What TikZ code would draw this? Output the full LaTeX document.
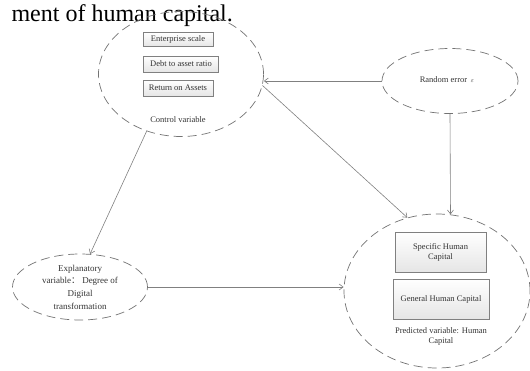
\documentclass[tikz,border=0pt]{standalone}
\usepackage{fontspec}
\setmainfont{Liberation Serif}
\newfontfamily\cjk{Noto Sans CJK SC}
\usetikzlibrary{shapes.geometric,arrows.meta}
\begin{document}
\begin{tikzpicture}[x=1pt,y=-1pt,
  every node/.style={text=black!80},
  grp/.style={ellipse,draw=black!55,line width=0.7pt,dash pattern=on 9pt off 5pt,inner sep=0pt},
  vbox/.style={rectangle,draw=black!50,line width=0.6pt,top color=white,bottom color=black!10,inner sep=1pt,align=center,font=\fontsize{8.5}{10}\selectfont},
  lbl/.style={align=center,font=\fontsize{8.5}{10}\selectfont},
  conn/.style={draw=black!50,line width=0.6pt,-{Straight Barb[length=4pt,width=6pt]}}]
\useasboundingbox (0,0) rectangle (530,370);
\node[anchor=base east,font=\fontsize{24}{26}\selectfont,text=black,inner sep=0pt] (head) at (233,21.5) {ment of human capital.};
% control variable group
\node[grp,minimum width=165pt,minimum height=125pt] (ctrl) at (181,74) {};
\node[vbox,minimum width=70pt,minimum height=14pt] (b1) at (178,39.5) {Enterprise scale};
\node[vbox,minimum width=75pt,minimum height=16pt] (b2) at (181,64) {Debt to asset ratio};
\node[vbox,minimum width=70pt,minimum height=16pt] (b3) at (178,88) {Return on Assets};
\node[lbl] (ctrlt) at (178,120) {Control variable};
% random error
\node[grp,minimum width=136pt,minimum height=65pt] (rand) at (450,81) {};
\node[lbl] (randt) at (447,80) {Random error \,{\fontsize{6.5}{7}\selectfont$\varepsilon$}};
% explanatory
\node[grp,minimum width=135pt,minimum height=66pt] (expl) at (80,287) {};
\node[align=center,font=\fontsize{9}{12.7}\selectfont] (explt) at (80,287) {Explanatory\\variable{\cjk ：}\ Degree of\\Digital\\transformation};
% predicted
\node[grp,minimum width=186pt,minimum height=154pt] (pred) at (437,291) {};
\node[vbox,minimum width=91pt,minimum height=40pt] (s1) at (440.5,252) {Specific Human\\Capital};
\node[vbox,minimum width=96pt,minimum height=40pt] (s2) at (441,299) {General Human Capital};
\node[align=center,font=\fontsize{8.5}{10}\selectfont] (predt) at (441,336) {Predicted variable: Human\\Capital};
% connectors
\draw[conn] (rand.west) -- (rand.west -| ctrl.east);
\draw[conn] (rand.south) -- (pred.80);
\draw[conn] (ctrl.-8) -- (pred.112);
\draw[conn] (ctrl.-121) -- (expl.73);
\draw[conn] (expl.east) -- (expl.east -| pred.west);
\end{tikzpicture}
\end{document}
